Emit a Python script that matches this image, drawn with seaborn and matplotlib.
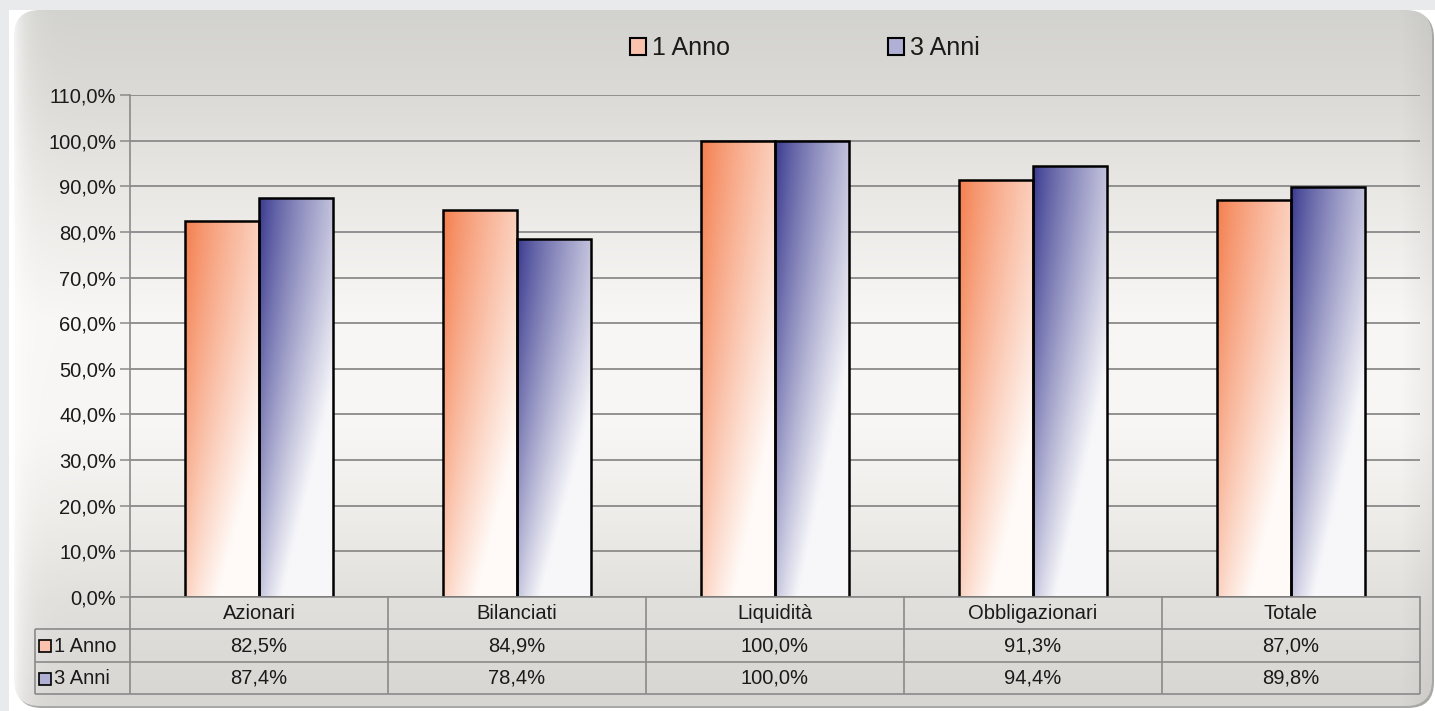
import numpy as np
import pandas as pd
import matplotlib
matplotlib.use("Agg")
import matplotlib.pyplot as plt
import seaborn as sns
from matplotlib.patches import Rectangle, FancyBboxPatch, Patch
from matplotlib.ticker import FuncFormatter
from matplotlib.colors import to_rgb

# ---------------- data ----------------
categories = ["Azionari", "Bilanciati", "Liquidità", "Obbligazionari", "Totale"]
series_names = ["1 Anno", "3 Anni"]
anno1 = [82.5, 84.9, 100.0, 91.3, 87.0]
anni3 = [87.4, 78.4, 100.0, 94.4, 89.8]
y_ticks = [0, 10, 20, 30, 40, 50, 60, 70, 80, 90, 100, 110]

df = pd.DataFrame({
    "Categoria": categories * 2,
    "Serie": [series_names[0]] * len(categories) + [series_names[1]] * len(categories),
    "Valore": anno1 + anni3,
})

def fmt_pct(v):
    return f"{v:.1f}%".replace(".", ",")

# ---------------- style ----------------
W, H = 1435, 711
sns.set_theme(style="white")
plt.rcParams["font.family"] = ["Liberation Sans", "DejaVu Sans"]

dark_colors = ["#F47D4C", "#38388F"]
light_ends = ["#FFFAF7", "#F7F7FA"]
grad_weights = [(0.66, 0.66), (0.72, 0.72)]
legend_fill = ["#FBC3AE", "#B0B0D6"]
text_color = "#1a1a1a"
line_grey = "#8a8a8a"

fig = plt.figure(figsize=(W / 100, H / 100), dpi=100)
fig.patch.set_facecolor("#E8EAEC")

# ---------------- background panel ----------------
bg = fig.add_axes([0, 0, 1, 1], zorder=-5)
bg.set_xlim(0, W)
bg.set_ylim(H, 0)
bg.axis("off")
bg.add_patch(Rectangle((9, 10), W - 9, H - 10, facecolor="white", edgecolor="none", zorder=0))
shadow = FancyBboxPatch((16, 12), 1418, 696, boxstyle="round,pad=0,rounding_size=26",
                        facecolor="#a8a8a6", edgecolor="none", zorder=0.2)
bg.add_patch(shadow)
panel = FancyBboxPatch((14, 10), 1418, 696, boxstyle="round,pad=0,rounding_size=26",
                       facecolor="none", edgecolor="none", zorder=0.3)
bg.add_patch(panel)
stops_y = [10, 100, 200, 320, 430, 520, 600, 700]
stops_c = ["#D2D2CE", "#DDDBD7", "#EBE9E6", "#F8F7F5", "#F7F6F4", "#EEECE9", "#E2E0DD", "#D7D6D3"]
ys = np.arange(10, 707)
cols = np.array([to_rgb(c) for c in stops_c])
grad = np.stack([np.interp(ys, stops_y, cols[:, k]) for k in range(3)], axis=-1)
xs = np.arange(14, 1432)
shade = 1 - 0.05 * np.clip((xs - 1400) / 32, 0, 1)
hl = 0.75 * np.exp(-(xs - 14) / 12.0)
img = grad[:, None, :] * shade[None, :, None]
img = img * (1 - hl[None, :, None]) + hl[None, :, None]
img = np.clip(img, 0, 1)
im = bg.imshow(img, extent=(14, 1432, 706, 10), aspect="auto", interpolation="bilinear",
               zorder=0.5)
im.set_clip_path(panel)
bg.set_xlim(0, W)
bg.set_ylim(H, 0)

# ---------------- main axes ----------------
ax = fig.add_axes([130 / W, 1 - 597 / H, (1420 - 130) / W, (597 - 95) / H])
ax.patch.set_alpha(0)
sns.barplot(data=df, x="Categoria", y="Valore", hue="Serie", order=categories,
            hue_order=series_names, palette=dark_colors, saturation=1, width=0.574,
            edgecolor="black", linewidth=1.8, errorbar=None, legend=False, ax=ax)

for cont, dark, light, (wu, wv) in zip(ax.containers, dark_colors, light_ends, grad_weights):
    c0 = np.array(to_rgb(dark))
    c1 = np.array(to_rgb(light))
    for bar in cont:
        x0, y0 = bar.get_xy()
        w, h = bar.get_width(), bar.get_height()
        ny, nx = 200, 60
        u = np.linspace(0, 1, nx)[None, :]
        v = np.linspace(1, 0, ny)[:, None]
        s = np.clip(wu * u ** 0.8 + wv * (1 - v) ** 1.25, 0, 1)
        rgb = c0 * (1 - s[..., None]) + c1 * s[..., None]
        gim = ax.imshow(rgb, extent=(x0, x0 + w, y0, y0 + h), aspect="auto", origin="upper",
                        zorder=bar.get_zorder() - 0.01, interpolation="bilinear")
        gim.set_clip_path(bar)
        bar.set_facecolor("none")

ax.set_xlim(-0.5, 4.5)
ax.set_ylim(0, 110)
ax.set_yticks(y_ticks)
ax.yaxis.set_major_formatter(FuncFormatter(lambda v, p: fmt_pct(v)))
ax.set_xticks([])
ax.set_xlabel("")
ax.set_ylabel("")
ax.set_axisbelow(True)
ax.grid(axis="y", color=line_grey, linewidth=1.3)
ax.tick_params(axis="y", left=True, length=7, width=1.1, color=line_grey, labelsize=14.5,
               labelcolor=text_color, pad=3)
for side in ["top", "right"]:
    ax.spines[side].set_visible(False)
ax.spines["left"].set_color(line_grey)
ax.spines["left"].set_linewidth(1.2)
ax.spines["bottom"].set_color(line_grey)
ax.spines["bottom"].set_linewidth(1.2)

# ---------------- data table ----------------
tx = fig.add_axes([35 / W, 1 - 694 / H, (1420 - 35) / W, (694 - 597) / H])
tx.axis("off")
xl = -0.5 - 95 / 258
tx.set_xlim(xl, 4.5)
tx.set_ylim(3, 0)
lk = dict(color=line_grey, linewidth=1.2, clip_on=False, solid_capstyle="butt")
for yy in [1, 2, 3]:
    tx.plot([xl, 4.5], [yy, yy], **lk)
tx.plot([xl, xl], [1, 3], **lk)
for k in range(6):
    tx.plot([k - 0.5, k - 0.5], [0, 3], **lk)

for i, cat in enumerate(categories):
    tx.text(i, 0.52, cat, ha="center", va="center", fontsize=14.5, color=text_color)
    tx.text(i, 1.52, fmt_pct(anno1[i]), ha="center", va="center", fontsize=14.5, color=text_color)
    tx.text(i, 2.52, fmt_pct(anni3[i]), ha="center", va="center", fontsize=14.5, color=text_color)

sq_w = 12 / 258
sq_h = 12 / 32.3
for r, (name, fc) in enumerate(zip(series_names, legend_fill)):
    yc = 1.5 + r
    tx.add_patch(Rectangle((xl + 4 / 258, yc - sq_h / 2 + 0.03), sq_w, sq_h, facecolor=fc,
                           edgecolor="black", linewidth=1.2, clip_on=False))
    tx.text(xl + 19 / 258, yc + 0.03, name, ha="left", va="center", fontsize=14.5, color=text_color)

# ---------------- legend ----------------
handles = [Patch(facecolor=fc, edgecolor="black", linewidth=1.5, label=n)
           for n, fc in zip(series_names, legend_fill)]
leg = fig.legend(handles=handles, loc="center", bbox_to_anchor=(805 / W, 1 - 48 / H), ncol=2,
                 frameon=False, fontsize=18, handlelength=0.65, handleheight=0.65,
                 handletextpad=0.25, columnspacing=6.3)
for t in leg.get_texts():
    t.set_color(text_color)

fig.savefig("out.png", dpi=100)
